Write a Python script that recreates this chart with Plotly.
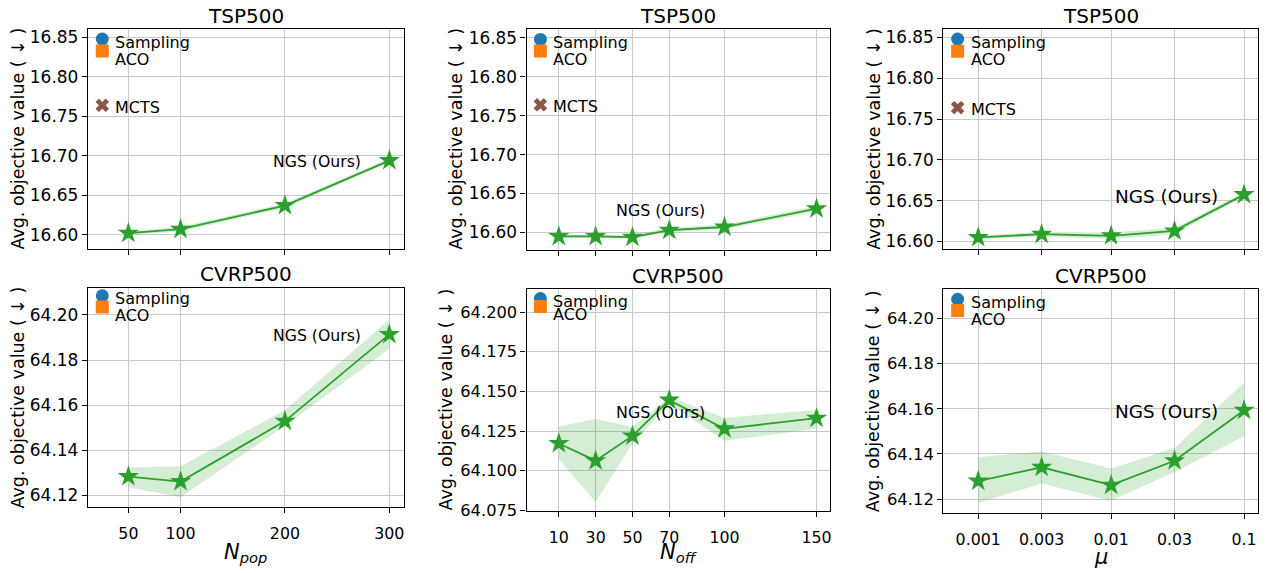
import math
import plotly.graph_objects as go

W, H = 1267, 573

# ---------------- data ----------------
npop = [50, 100, 200, 300]
noff = [10, 30, 50, 70, 100, 150]
mu = [0.001, 0.003, 0.01, 0.03, 0.1]
mu_labels = ["0.001", "0.003", "0.01", "0.03", "0.1"]

tsp_npop = [16.602, 16.607, 16.637, 16.694]
tsp_npop_lo = [16.600, 16.604, 16.634, 16.692]
tsp_npop_hi = [16.604, 16.610, 16.640, 16.697]

tsp_noff = [16.595, 16.595, 16.594, 16.603, 16.607, 16.6305]
tsp_noff_lo = [16.593, 16.593, 16.592, 16.600, 16.604, 16.627]
tsp_noff_hi = [16.597, 16.597, 16.596, 16.606, 16.610, 16.634]

tsp_mu = [16.605, 16.609, 16.607, 16.613, 16.6575]
tsp_mu_lo = [16.603, 16.606, 16.603, 16.609, 16.655]
tsp_mu_hi = [16.607, 16.612, 16.611, 16.617, 16.660]

cvrp_npop = [64.1283, 64.1261, 64.1529, 64.1914]
cvrp_npop_lo = [64.1236, 64.1191, 64.1509, 64.1850]
cvrp_npop_hi = [64.1322, 64.1329, 64.1577, 64.1980]

cvrp_noff = [64.1171, 64.1063, 64.1219, 64.1445, 64.1264, 64.1331]
cvrp_noff_lo = [64.1072, 64.0802, 64.1171, 64.1420, 64.1188, 64.1264]
cvrp_noff_hi = [64.1279, 64.1326, 64.1276, 64.1465, 64.1333, 64.1383]

cvrp_mu = [64.1280, 64.1341, 64.1262, 64.1370, 64.1594]
cvrp_mu_lo = [64.1183, 64.1269, 64.1193, 64.1320, 64.1479]
cvrp_mu_hi = [64.1386, 64.1411, 64.1336, 64.1426, 64.1716]

baseline_names = ["Sampling", "ACO", "MCTS"]
tsp_baseline = [16.848, 16.833, 16.764]
cvrp_baseline = [64.2085, 64.2035]
baseline_x_npop = 25
baseline_x_noff = 0
baseline_x_mu = 0.0007

tsp_yticks = [16.60, 16.65, 16.70, 16.75, 16.80, 16.85]
cvrp_yticks_a = [64.12, 64.14, 64.16, 64.18, 64.20]
cvrp_yticks_b = [64.075, 64.100, 64.125, 64.150, 64.175, 64.200]

# ---------------- style ----------------
FONT = "DejaVu Sans"
C_SAMP, C_ACO, C_MCTS, C_NGS = "#1f77b4", "#ff7f0e", "#8c564b", "#2ca02c"
BAND = "rgba(44,160,44,0.2)"
GRID = "#c8c8c8"
base_colors = [C_SAMP, C_ACO, C_MCTS]
base_symbols = ["circle", "square", "x"]
base_sizes = [13, 13, 12]
base_text_shift = [-3, -8.5, -2]
XTICK_FS = 15.8

panels = [
    dict(frame=(88, 28, 404, 252), x=npop, y=tsp_npop, lo=tsp_npop_lo, hi=tsp_npop_hi,
         xtype="linear", xr=[11.25, 313.75], yr=[16.5824, 16.8614], yt=tsp_yticks, yf=".2f",
         xt=npop, xtt=[str(v) for v in npop], title="TSP500", title_y=15, xlabel=None,
         bx=baseline_x_npop, by=tsp_baseline, ylab_x=18, ngs=(-26, -1, 15.7), tickfs=17),
    dict(frame=(527, 28, 831, 253), x=noff, y=tsp_noff, lo=tsp_noff_lo, hi=tsp_noff_hi,
         xtype="linear", xr=[-7.5, 157.5], yr=[16.578, 16.862], yt=tsp_yticks, yf=".2f",
         xt=noff, xtt=[str(v) for v in noff], title="TSP500", title_y=15, xlabel=None,
         bx=baseline_x_noff, by=tsp_baseline, ylab_x=456, ngs=(-110, -2, 15.9), tickfs=16.9),
    dict(frame=(944, 28, 1259, 252), x=mu, y=tsp_mu, lo=tsp_mu_lo, hi=tsp_mu_hi,
         xtype="log", xr=[-3.263, -0.895], yr=[16.5913, 16.861], yt=tsp_yticks, yf=".2f",
         xt=mu, xtt=mu_labels, title="TSP500", title_y=15, xlabel=None,
         bx=baseline_x_mu, by=tsp_baseline, ylab_x=874, ngs=(-24, -2, 18.4), tickfs=16.9),
    dict(frame=(88, 292, 404, 515), x=npop, y=cvrp_npop, lo=cvrp_npop_lo, hi=cvrp_npop_hi,
         xtype="linear", xr=[11.25, 313.75], yr=[64.1148, 64.212], yt=cvrp_yticks_a, yf=".2f",
         xt=npop, xtt=[str(v) for v in npop], title="CVRP500", title_y=278,
         xlabel="<i>N<sub>pop</sub></i>", xlabel_y=562,
         bx=baseline_x_npop, by=cvrp_baseline, ylab_x=18, ngs=(-26, -1, 15.7), tickfs=17),
    dict(frame=(527, 293, 831, 519), x=noff, y=cvrp_noff, lo=cvrp_noff_lo, hi=cvrp_noff_hi,
         xtype="linear", xr=[-7.5, 157.5], yr=[64.0746, 64.2146], yt=cvrp_yticks_b, yf=".3f",
         xt=noff, xtt=[str(v) for v in noff], title="CVRP500", title_y=280,
         xlabel="<i>N<sub>off</sub></i>", xlabel_y=562,
         bx=baseline_x_noff, by=cvrp_baseline, ylab_x=446, ngs=(-110, 5.5, 15.9), tickfs=16.3),
    dict(frame=(944, 293, 1259, 521), x=mu, y=cvrp_mu, lo=cvrp_mu_lo, hi=cvrp_mu_hi,
         xtype="log", xr=[-3.263, -0.895], yr=[64.1139, 64.2131], yt=cvrp_yticks_a, yf=".2f",
         xt=mu, xtt=mu_labels, title="CVRP500", title_y=280,
         xlabel="<i>μ</i>", xlabel_y=566,
         bx=baseline_x_mu, by=cvrp_baseline, ylab_x=874, ngs=(-24, -1, 18.4), tickfs=16.4),
]

fig = go.Figure()
annotations = []
layout = dict(
    width=W, height=H, autosize=False,
    margin=dict(l=0, r=0, t=0, b=0, pad=0),
    paper_bgcolor="white", plot_bgcolor="white",
    showlegend=False,
    font=dict(family=FONT, color="black"),
)

for i, p in enumerate(panels, start=1):
    sfx = "" if i == 1 else str(i)
    xa, ya = "x" + sfx, "y" + sfx
    l, t, r, b = p["frame"]
    xdom = [l / W, r / W]
    ydom = [1 - b / H, 1 - t / H]
    bottom_row = i > 3

    layout["xaxis" + sfx] = dict(
        domain=xdom, anchor=ya, type=p["xtype"], range=p["xr"],
        tickmode="array", tickvals=p["xt"], ticktext=p["xtt"],
        showticklabels=bottom_row, ticks="outside", ticklen=5, tickwidth=1, tickcolor="black",
        ticklabelstandoff=7,
        tickfont=dict(size=XTICK_FS, family=FONT, color="black"),
        showgrid=True, gridcolor=GRID, gridwidth=1.3,
        showline=True, linecolor="black", linewidth=1.2, mirror=True,
        zeroline=False, fixedrange=True,
    )
    layout["yaxis" + sfx] = dict(
        domain=ydom, anchor=xa, range=p["yr"],
        tickmode="array", tickvals=p["yt"], tickformat=p["yf"],
        ticks="outside", ticklen=5, tickwidth=1, tickcolor="black",
        tickfont=dict(size=p["tickfs"], family=FONT, color="black"),
        showgrid=True, gridcolor=GRID, gridwidth=1.3,
        showline=True, linecolor="black", linewidth=1.2, mirror=True,
        zeroline=False, fixedrange=True,
    )

    # band
    fig.add_trace(go.Scatter(
        x=list(p["x"]) + list(p["x"])[::-1], y=list(p["hi"]) + list(p["lo"])[::-1],
        fill="toself", fillcolor=BAND, line=dict(width=0), mode="lines",
        hoverinfo="skip", xaxis=xa, yaxis=ya,
    ))
    # NGS line
    fig.add_trace(go.Scatter(
        x=p["x"], y=p["y"], mode="lines+markers",
        line=dict(color=C_NGS, width=1.8),
        marker=dict(symbol="star", size=16, color=C_NGS, line=dict(width=0)),
        xaxis=xa, yaxis=ya, name="NGS (Ours)",
    ))
    # baselines
    for k, yv in enumerate(p["by"]):
        fig.add_trace(go.Scatter(
            x=[p["bx"]], y=[yv], mode="markers",
            marker=dict(symbol=base_symbols[k], size=base_sizes[k], color=base_colors[k],
                        line=dict(width=0)),
            xaxis=xa, yaxis=ya, name=baseline_names[k],
        ))
        ax_x = math.log10(p["bx"]) if p["xtype"] == "log" else p["bx"]
        annotations.append(dict(
            xref=xa, yref=ya, x=ax_x, y=yv, text=baseline_names[k],
            showarrow=False, xanchor="left", yanchor="middle",
            xshift=11, yshift=base_text_shift[k],
            font=dict(size=16, family=FONT, color="black"),
        ))
    # NGS label
    lx = math.log10(p["x"][-1]) if p["xtype"] == "log" else p["x"][-1]
    dx, dy, fs = p["ngs"]
    annotations.append(dict(
        xref=xa, yref=ya, x=lx, y=p["y"][-1], text="NGS (Ours)",
        showarrow=False, xanchor="right", yanchor="middle", xshift=dx, yshift=dy,
        font=dict(size=fs, family=FONT, color="black"),
    ))
    # title
    annotations.append(dict(
        xref="paper", yref="paper", x=(l + r) / 2 / W, y=1 - p["title_y"] / H,
        text=p["title"], showarrow=False, xanchor="center", yanchor="middle",
        font=dict(size=20, family=FONT, color="black"),
    ))
    # y label
    annotations.append(dict(
        xref="paper", yref="paper", x=p["ylab_x"] / W, y=1 - (t + b) / 2 / H,
        text="Avg. objective value ( ↓ )", textangle=-90, showarrow=False,
        xanchor="center", yanchor="middle",
        font=dict(size=17.5, family=FONT, color="black"),
    ))
    # x label
    if p.get("xlabel"):
        annotations.append(dict(
            xref="paper", yref="paper", x=(l + r) / 2 / W, y=1 - p["xlabel_y"] / H,
            text=p["xlabel"], showarrow=False, xanchor="center", yanchor="middle",
            font=dict(size=21, family=FONT, color="black"),
        ))

layout["annotations"] = annotations
fig.update_layout(**layout)
fig.write_html("out.html", config={"displayModeBar": False},
               post_script="document.body.style.margin='0px';")
